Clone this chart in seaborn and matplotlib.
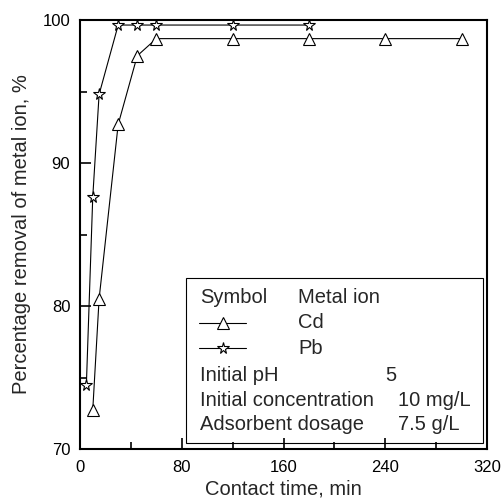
import seaborn as sns
import matplotlib.pyplot as plt
from matplotlib.patches import Rectangle
from matplotlib.ticker import MultipleLocator

# contact time (min) and removal (%)
cd_time = [10, 15, 30, 45, 60, 120, 180, 240, 300]
cd_removal = [72.7, 80.5, 92.7, 97.5, 98.7, 98.7, 98.7, 98.7, 98.7]
pb_time = [5, 10, 15, 30, 45, 60, 120, 180]
pb_removal = [74.5, 87.6, 94.8, 99.65, 99.65, 99.65, 99.65, 99.65]

x_ticks = [0, 80, 160, 240, 320]
y_ticks = [70, 80, 90, 100]

legend_rows = [
    ("Symbol", "Metal ion", None),
    (None, "Cd", "^"),
    (None, "Pb", "*"),
    ("Initial pH", "5", None),
    ("Initial concentration", "10 mg/L", None),
    ("Adsorbent dosage", "7.5 g/L", None),
]


def main():
    sns.set_style("ticks")
    plt.rcParams['font.family'] = ['Liberation Sans', 'DejaVu Sans']
    plt.rcParams['font.size'] = 12

    fig = plt.figure(figsize=(5.02, 5.01), dpi=100)
    ax = fig.add_axes([0.1594, 0.1038, 0.8108, 0.8562])

    line_kw = dict(color='black', linewidth=0.8, markerfacecolor='white',
                   markeredgecolor='black', markeredgewidth=0.8)
    sns.lineplot(x=cd_time, y=cd_removal, marker='^', markersize=9,
                 ax=ax, **line_kw)
    sns.lineplot(x=pb_time, y=pb_removal, marker='*', markersize=8.5,
                 ax=ax, **line_kw)

    ax.set_xlim(0, 320)
    ax.set_ylim(70, 100)
    ax.set_xticks(x_ticks)
    ax.set_yticks(y_ticks)
    ax.xaxis.set_minor_locator(MultipleLocator(40))
    ax.yaxis.set_minor_locator(MultipleLocator(5))
    ax.tick_params(which='both', direction='in', top=False, right=False,
                   labelsize=12, colors='black', width=1.2)
    ax.tick_params(which='major', length=8)
    ax.tick_params(which='minor', length=5)
    ax.tick_params(axis='x', which='major', pad=8)
    ax.tick_params(axis='y', which='major', pad=7)
    for s in ax.spines.values():
        s.set_linewidth(1.5)
        s.set_color('black')
    ax.set_xlabel("Contact time, min", fontsize=14.5, labelpad=3)
    ax.set_ylabel("Percentage removal of metal ion, %", fontsize=14.5,
                  labelpad=8)

    # boxed key
    ax.add_patch(Rectangle((0.260, 0.014), 0.730, 0.385,
                           transform=ax.transAxes, fill=False,
                           edgecolor='black', linewidth=0.8, zorder=3))
    row_y = [0.354, 0.294, 0.235, 0.172, 0.114, 0.056]
    for (left, right, mk), y in zip(legend_rows, row_y):
        if left:
            ax.text(0.295, y, left, transform=ax.transAxes, va='center',
                    fontsize=14.5)
        if mk:
            ax.plot([0.292, 0.351, 0.408], [y, y, y], transform=ax.transAxes,
                    marker=mk, markevery=[1],
                    markersize=9 if mk == '^' else 8.5, **line_kw)
        rx = 0.536
        if left and left.startswith("Initial pH"):
            rx = 0.749
        elif left and left != "Symbol":
            rx = 0.781
        ax.text(rx, y, right, transform=ax.transAxes, va='center',
                fontsize=14.5)

    fig.savefig("out.png", dpi=100)


if __name__ == "__main__":
    main()
